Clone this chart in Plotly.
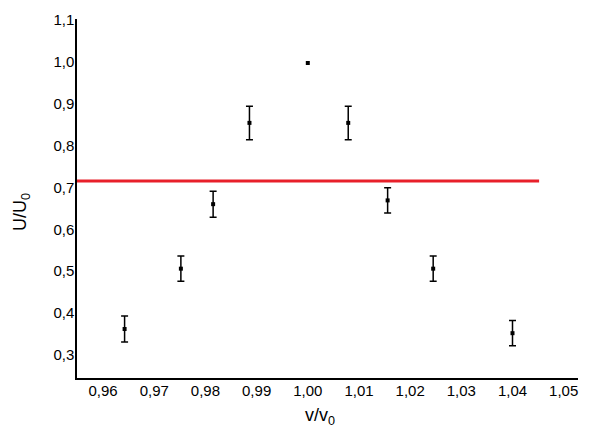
import plotly.graph_objects as go

x_vals = [0.9642, 0.9752, 0.9815, 0.9886, 1.0000, 1.0079, 1.0156, 1.0245, 1.0400]
y_vals = [0.362, 0.506, 0.660, 0.854, 0.997, 0.854, 0.669, 0.506, 0.352]
y_err = [0.031, 0.030, 0.031, 0.040, None, 0.040, 0.030, 0.030, 0.030]
level_x = [0.9549, 1.0452]
level_y = [0.715, 0.715]

with_err = [i for i, e in enumerate(y_err) if e]
no_err = [i for i, e in enumerate(y_err) if not e]

fig = go.Figure()
fig.add_trace(go.Scatter(
    x=level_x, y=level_y, mode="lines",
    line=dict(color="#e8202a", width=3), showlegend=False, hoverinfo="skip"))
fig.add_trace(go.Scatter(
    x=[x_vals[i] for i in with_err], y=[y_vals[i] for i in with_err], mode="markers",
    marker=dict(symbol="square", size=4, color="black"),
    error_y=dict(type="data", array=[y_err[i] for i in with_err], visible=True,
                 color="black", thickness=1.5, width=3.5),
    showlegend=False))
fig.add_trace(go.Scatter(
    x=[x_vals[i] for i in no_err], y=[y_vals[i] for i in no_err], mode="markers",
    marker=dict(symbol="square", size=4, color="black"),
    showlegend=False))

fig.update_layout(
    width=611, height=443,
    margin=dict(l=69, r=41, t=11, b=73, autoexpand=False),
    paper_bgcolor="white", plot_bgcolor="white",
    separators=",.",
    font=dict(family="Liberation Sans", size=15, color="black"),
    xaxis=dict(
        range=[0.9549, 1.0528], tickvals=[0.96, 0.97, 0.98, 0.99, 1.00, 1.01, 1.02, 1.03, 1.04, 1.05],
        tickformat=".2f", showgrid=False, zeroline=False,
        showline=True, linecolor="black", linewidth=1.5, ticks="",
        ticklabelstandoff=-2,
    ),
    yaxis=dict(
        range=[0.245, 1.102], tickvals=[0.3, 0.4, 0.5, 0.6, 0.7, 0.8, 0.9, 1.0, 1.1],
        tickformat=".1f", showgrid=False, zeroline=False,
        showline=True, linecolor="black", linewidth=1.5, ticks="",
        ticklabelstandoff=-2,
    ),
    annotations=[
        dict(text="v/v<sub>0</sub>", xref="paper", yref="paper", x=0.485, y=0,
             xanchor="center", yanchor="middle", yshift=-38, showarrow=False,
             font=dict(size=18)),
        dict(text="U/U<sub>0</sub>", xref="paper", yref="paper", x=0, y=0.4624,
             xanchor="center", yanchor="middle", xshift=-55, textangle=-90,
             showarrow=False, font=dict(size=18)),
    ],
)

fig.write_html("out.html")
